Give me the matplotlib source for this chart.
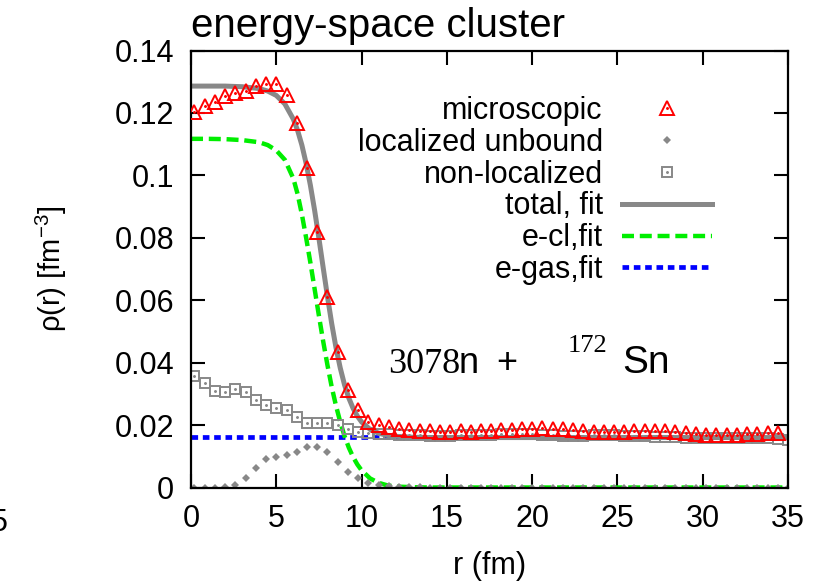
import numpy as np
import matplotlib
matplotlib.use("Agg")
import matplotlib.pyplot as plt
from matplotlib.legend_handler import HandlerTuple

plt.rcParams['font.family'] = ['Liberation Sans', 'DejaVu Sans']
plt.rcParams['mathtext.fontset'] = 'custom'
plt.rcParams['mathtext.rm'] = 'Liberation Sans'

# radial grid of the microscopic calculation (fm)
r_grid = np.arange(59) * 0.6 + 0.2

# microscopic density, 58 points
rho_micro = [0.1204, 0.1222, 0.1236, 0.1254, 0.1263, 0.1271, 0.1286, 0.1292, 0.1292, 0.1258,
             0.1167, 0.1023, 0.0820, 0.0611, 0.0435, 0.0312, 0.0248, 0.0211, 0.0200, 0.0193,
             0.0188, 0.0183, 0.0181, 0.0180, 0.0179, 0.0179, 0.0180, 0.0179, 0.0180, 0.0181,
             0.0183, 0.0184, 0.0186, 0.0188, 0.0190, 0.0189, 0.0187, 0.0183, 0.0180, 0.0178,
             0.0178, 0.0179, 0.0179, 0.0180, 0.0181, 0.0181, 0.0180, 0.0178, 0.0175, 0.0172,
             0.0169, 0.0168, 0.0168, 0.0169, 0.0170, 0.0172, 0.0173, 0.0173]

# localized unbound part
rho_loc = [0.0, 0.0, 0.0, 0.0003, 0.0008, 0.0029, 0.0061, 0.0090, 0.0099, 0.0104,
           0.0115, 0.0129, 0.0129, 0.0115, 0.0083, 0.0051, 0.0029, 0.0013, 0.0008, 0.0005,
           0.0003, 0.0002, 0.0001, 0.0, 0.0, 0.0, 0.0, 0.0, 0.0, 0.0,
           0.0, 0.0, 0.0, 0.0, 0.0, 0.0, 0.0, 0.0, 0.0, 0.0,
           0.0, 0.0, 0.0, 0.0, 0.0, 0.0, 0.0, 0.0, 0.0, 0.0,
           0.0, 0.0, 0.0, 0.0, 0.0, 0.0, 0.0, 0.0, 0.0]

# non-localized part
rho_nonloc = [0.0357, 0.0334, 0.0310, 0.0307, 0.0317, 0.0305, 0.0280, 0.0264, 0.0254, 0.0248,
              0.0225, 0.0206, 0.0206, 0.0208, 0.0200, 0.0187, 0.0179, 0.0174, 0.0171, 0.0170,
              0.0168, 0.0167, 0.0167, 0.0166, 0.0166, 0.0166, 0.0167, 0.0167, 0.0168, 0.0169,
              0.0170, 0.0171, 0.0171, 0.0170, 0.0168, 0.0167, 0.0166, 0.0166, 0.0166, 0.0167,
              0.0167, 0.0167, 0.0166, 0.0165, 0.0164, 0.0163, 0.0162, 0.0161, 0.0160, 0.0159,
              0.0159, 0.0159, 0.0160, 0.0160, 0.0159, 0.0158, 0.0157, 0.0155, 0.0152]

# fitted curves
r_fit = [0, 1, 2, 3, 4, 4.5, 5, 5.5, 6, 6.25, 6.5, 6.75, 7, 7.25, 7.5, 7.75, 8, 8.25,
         8.5, 8.75, 9, 9.25, 9.5, 9.75, 10, 10.5, 11, 11.5, 12, 13, 14, 15, 35]
rho_total_fit = [0.1286, 0.1286, 0.1286, 0.1284, 0.1278, 0.1270, 0.1256, 0.1229, 0.1180,
                 0.1144, 0.1097, 0.1038, 0.0968, 0.0887, 0.0798, 0.0704, 0.0612, 0.0525,
                 0.0448, 0.0383, 0.0329, 0.0287, 0.0254, 0.0229, 0.0210, 0.0186, 0.0174,
                 0.0167, 0.0164, 0.0161, 0.0160, 0.0160, 0.0160]
rho_ecl_fit = [0.1117, 0.1117, 0.1116, 0.1113, 0.1106, 0.1097, 0.1080, 0.1050, 0.0990,
               0.0940, 0.0875, 0.0800, 0.0720, 0.0635, 0.0550, 0.0468, 0.0392, 0.0322,
               0.0262, 0.0210, 0.0165, 0.0128, 0.0098, 0.0074, 0.0055, 0.0029, 0.0015,
               0.0007, 0.0003, 0.0001, 0.0, 0.0, 0.0]
r_gas = [0, 35]
rho_gas_fit = [0.0162, 0.0162]

yticks = [0, 0.02, 0.04, 0.06, 0.08, 0.1, 0.12, 0.14]
ytick_labels = ['0', '0.02', '0.04', '0.06', '0.08', '0.1', '0.12', '0.14']
xticks = [0, 5, 10, 15, 20, 25, 30, 35]

W, H = 815, 586
fig = plt.figure(figsize=(W / 100, H / 100), dpi=100)
ax = fig.add_axes([191 / W, (H - 487.5) / H, 597 / W, 437 / H])

grey = '#888888'

gas, = ax.plot(r_gas, rho_gas_fit, color='#0000ff', lw=3.4, ls=(0, (1.4, 1.0)),
               solid_capstyle='butt', zorder=1.8)
tot, = ax.plot(r_fit, rho_total_fit, color=grey, lw=3.6, zorder=2)
ecl, = ax.plot(r_fit, rho_ecl_fit, color='#00ee00', lw=3.2, ls=(0, (2.7, 1.3)), zorder=2.1)

sq, = ax.plot(r_grid, rho_nonloc, ls='none', marker='s', ms=6.5, mfc='none',
              mec=grey, mew=1.4, zorder=2.2)
sq_dot, = ax.plot(r_grid, rho_nonloc, ls='none', marker='.', ms=2.2, color=grey, zorder=2.2)
dia, = ax.plot(r_grid, rho_loc, ls='none', marker='D', ms=3.6, color=grey, mew=0, zorder=2.3)

tri, = ax.plot(r_grid[:58], rho_micro, ls='none', marker='^', ms=9.5, mfc='none',
               mec='#ff0000', mew=1.4, zorder=3)
tri_dot, = ax.plot(r_grid[:58], rho_micro, ls='none', marker='.', ms=2.2, color='#ff0000', zorder=3)

ax.set_xlim(0, 35)
ax.set_ylim(0, 0.14)
ax.set_xticks(xticks)
ax.set_yticks(yticks)
ax.set_yticklabels(ytick_labels)
ax.tick_params(direction='in', length=10, width=1.5, top=True, right=True,
               labelsize=22, pad=12)
for s in ax.spines.values():
    s.set_linewidth(1.6)

ax.set_xlabel('r (fm)', fontsize=22)
ax.xaxis.set_label_coords(0.5, -0.145)
ax.set_ylabel(r'ρ(r) [fm$^{-3}$]', fontsize=21)
ax.yaxis.set_label_coords(-0.205, 0.5)
ax.set_title('energy-space cluster', fontsize=29, loc='left', pad=10)

ax.legend([(tri, tri_dot), dia, (sq, sq_dot), tot, ecl, gas],
          ['microscopic', 'localized unbound', 'non-localized', 'total, fit', 'e-cl,fit', 'e-gas,fit'],
          handler_map={tuple: HandlerTuple(ndivide=1)},
          loc='upper right', bbox_to_anchor=(712 / W, 1 - 96 / H), bbox_transform=fig.transFigure,
          frameon=False, markerfirst=False, numpoints=1, fontsize=22,
          labelspacing=0.06, handlelength=2.95, handletextpad=0.62,
          borderpad=0, borderaxespad=0)

# reaction label
fig.text(388 / W, 1 - 373 / H, '3078', family='Liberation Serif', fontsize=26, va='baseline')
fig.text(459 / W, 1 - 373 / H, 'n', fontsize=26, va='baseline')
fig.text(496 / W, 1 - 373 / H, '+', fontsize=26, va='baseline')
fig.text(568 / W, 1 - 352 / H, '172', family='Liberation Serif', fontsize=19, va='baseline')
fig.text(622 / W, 1 - 373 / H, 'Sn', fontsize=28, va='baseline')

# edge of the neighbouring panel's tick label
fig.text(-9 / W, 1 - 531 / H, '5', fontsize=22, va='baseline')

fig.savefig('out.png', dpi=100)
